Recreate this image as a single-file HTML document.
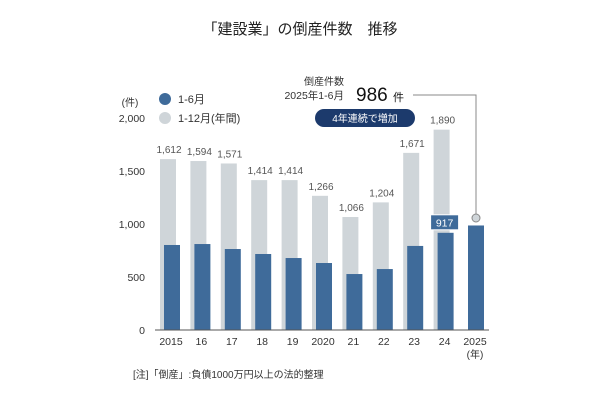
<!DOCTYPE html>
<html><head><meta charset="utf-8"><style>
body{margin:0;background:#fff}
svg text{font-family:"Liberation Sans","Noto Sans CJK JP",sans-serif}
</style></head><body>
<svg width="600" height="400" viewBox="0 0 600 400">
<text x="300" y="34" text-anchor="middle" font-size="15" fill="#222">「建設業」の倒産件数　推移</text>
<text x="130" y="106" text-anchor="middle" font-size="10" fill="#333">(件)</text>
<circle cx="165" cy="99" r="6" fill="#3f6b9a"/>
<text x="178" y="103" font-size="11" fill="#333">1-6月</text>
<circle cx="165" cy="118" r="6" fill="#cfd5d9"/>
<text x="178" y="122" font-size="11" fill="#333">1-12月(年間)</text>
<text x="324" y="85" text-anchor="middle" font-size="10" fill="#333">倒産件数</text>
<text x="344" y="99" text-anchor="end" font-size="10.5" fill="#333">2025年1-6月</text>
<text x="356" y="101" font-size="19" fill="#111">986 <tspan font-size="11">件</tspan></text>
<polyline points="413,95 476,95 476,214" fill="none" stroke="#888" stroke-width="1"/>
<circle cx="476" cy="218" r="4" fill="#cfd5d9" stroke="#888"/>
<rect x="315" y="109" width="100" height="18" rx="9" fill="#1c3a6c"/>
<text x="365" y="122" text-anchor="middle" font-size="10" fill="#fff">4年連続で増加</text>
<g id="chart"></g>
<text x="133" y="378" font-size="10" fill="#333">[注]「倒産」:負債1000万円以上の法的整理</text>
</svg>
<script>
const years=["2015","16","17","18","19","2020","21","22","23","24","2025"];
const annual=[1612,1594,1571,1414,1414,1266,1066,1204,1671,1890,null];
const firstHalf=[802,811,764,717,679,632,528,575,793,917,986];
const yTicks=[0,500,1000,1500,2000];
const yTickLabels=["0","500","1,000","1,500","2,000"];
const NS="http://www.w3.org/2000/svg";
const g=document.getElementById("chart");
const y=v=>330-v*0.106;
const x=i=>171+i*30.4;
function mk(t,a,txt){const e=document.createElementNS(NS,t);for(const k in a)e.setAttribute(k,a[k]);if(txt!=null)e.textContent=txt;g.appendChild(e);return e;}
yTicks.forEach((v,i)=>{
 const t=mk("text",{x:145,y:y(v)+4,"text-anchor":"end","font-size":10.5,fill:"#333"},yTickLabels[i]);
 
 
});
years.forEach((yr,i)=>{
 const c=x(i);
 if(annual[i]!=null){
  const r=mk("rect",{x:c-11,y:y(annual[i]),width:16,height:330-y(annual[i]),fill:"#cfd5d9"});
  
  
  const t=mk("text",{x:c-2,y:y(annual[i])-6,"text-anchor":"middle","font-size":10,fill:"#555"},annual[i].toLocaleString("en-US"));
  
  
 }
 const b=mk("rect",{x:c-7,y:y(firstHalf[i]),width:16,height:330-y(firstHalf[i]),fill:"#3f6b9a"});
 
 
 const xl=mk("text",{x:c,y:345,"text-anchor":"middle","font-size":10.5,fill:"#333"},yr);
 
 
});
const i24=9;
const bx=mk("rect",{x:x(i24)-14,y:y(firstHalf[i24])-18,width:28,height:15,fill:"#3f6b9a",stroke:"#fff","stroke-width":1});


const bt=mk("text",{x:x(i24),y:y(firstHalf[i24])-6.5,"text-anchor":"middle","font-size":10.5,fill:"#fff"},String(firstHalf[i24]));


const ax=mk("line",{x1:155,y1:330,x2:489,y2:330,stroke:"#555","stroke-width":1});


const yl=mk("text",{x:x(10),y:358,"text-anchor":"middle","font-size":10,fill:"#333"},"(年)");


</script>
</body></html>
